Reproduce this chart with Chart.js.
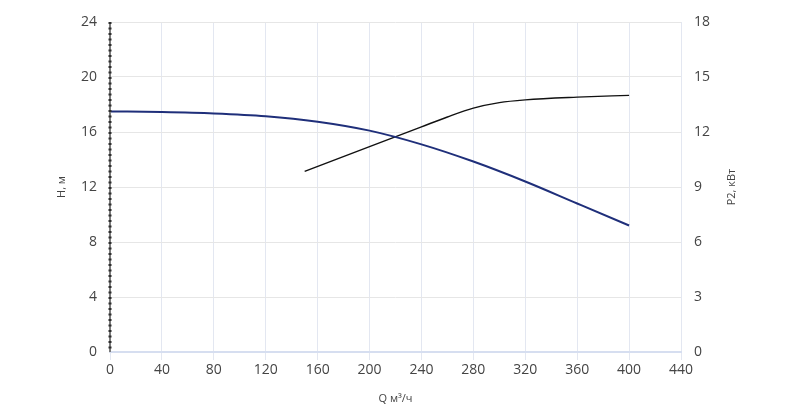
<!DOCTYPE html>
<html>
<head>
<meta charset="utf-8">
<script src="https://cdn.jsdelivr.net/npm/chart.js@4/dist/chart.umd.min.js"></script>
<style>
  html, body { margin: 0; padding: 0; background: #fff; }
  #wrap { width: 800px; height: 408px; }
</style>
</head>
<body>
<div id="wrap"><canvas id="pump" width="800" height="408"></canvas></div>
<script>
// --- data ------------------------------------------------------------
const qHead  = [0, 40, 80, 120, 160, 200, 240, 280, 320, 360, 400];
const head   = [17.5, 17.45, 17.35, 17.15, 16.75, 16.1, 15.1, 13.85, 12.4, 10.8, 9.2];

const qPower = [150, 200, 240, 260, 280, 300, 320, 360, 400];
const power  = [9.85, 11.2, 12.28, 12.82, 13.3, 13.6, 13.75, 13.9, 14.0];

const xTitle  = "Q м³/ч";
const yTitle  = "H, м";
const y1Title = "P2, кВт";

const C = {
  head:  "#1f2f7a",
  power: "#111111",
  tick:  "#444444",
  gridH: "#e6e6e6",
  gridV: "#e3e7f1",
  base:  "#d6def0",
  axis:  "#7a7a7a",
  dots:  "#2e2e2e",
};

const FONT = "'Open Sans', 'Noto Sans', sans-serif";

// dotted left axis + axis titles (the right title reads bottom-to-top like the left one)
const axisDecor = {
  id: "axisDecor",
  afterDatasetsDraw(chart) {
    const { ctx, chartArea: a } = chart;
    ctx.save();
    ctx.lineCap = "butt";
    ctx.beginPath();
    ctx.moveTo(a.left, a.top);
    ctx.lineTo(a.left, a.bottom);
    ctx.strokeStyle = C.axis;
    ctx.lineWidth = 2;
    ctx.stroke();
    ctx.setLineDash([2, 3.5]);
    ctx.strokeStyle = C.dots;
    ctx.lineWidth = 3;
    ctx.stroke();
    ctx.restore();
  },
  afterDraw(chart) {
    const { ctx, chartArea: a } = chart;
    const cy = (a.top + a.bottom) / 2;
    ctx.save();
    ctx.fillStyle = C.tick;
    ctx.font = "11px " + FONT;
    ctx.textAlign = "center";
    ctx.textBaseline = "middle";
    ctx.fillText(xTitle, (a.left + a.right) / 2, a.bottom + 47);
    [[a.left - 48, yTitle], [a.right + 51, y1Title]].forEach(([x, t]) => {
      ctx.save();
      ctx.translate(x, cy);
      ctx.rotate(-Math.PI / 2);
      ctx.fillText(t, 0, 0);
      ctx.restore();
    });
    ctx.restore();
  },
};

Chart.defaults.animation = false;
Chart.defaults.font.family = FONT;

new Chart(document.getElementById("pump"), {
  type: "line",
  data: {
    datasets: [
      { label: "H", data: qHead.map((q, i) => ({ x: q, y: head[i] })), yAxisID: "y",
        borderColor: C.head, borderWidth: 2, pointRadius: 0, cubicInterpolationMode: "monotone" },
      { label: "P2", data: qPower.map((q, i) => ({ x: q, y: power[i] })), yAxisID: "y1",
        borderColor: C.power, borderWidth: 1.4, pointRadius: 0, cubicInterpolationMode: "monotone" },
    ],
  },
  options: {
    responsive: false,
    maintainAspectRatio: false,
    animation: false,
    layout: { padding: { top: 22, left: 0, right: 0, bottom: 0 } },
    plugins: { legend: { display: false }, tooltip: { enabled: false } },
    scales: {
      x: {
        type: "linear", min: 0, max: 440,
        ticks: { stepSize: 40, color: C.tick, font: { size: 14 }, padding: 2 },
        grid: { color: C.gridV, lineWidth: 1, tickLength: 8 },
        border: { color: C.base, width: 2 },
        afterFit(s) { s.height = 56; },
      },
      y: {
        position: "left", min: 0, max: 24,
        ticks: { stepSize: 4, color: C.tick, font: { size: 14 }, padding: 13 },
        grid: { color: C.gridH, lineWidth: 1, drawTicks: false },
        border: { display: false },
        afterFit(s) { s.width = 110; },
      },
      y1: {
        position: "right", min: 0, max: 18,
        ticks: { stepSize: 3, color: C.tick, font: { size: 14 }, padding: 13 },
        grid: { display: false, drawTicks: false },
        border: { display: false },
        afterFit(s) { s.width = 119; },
      },
    },
  },
  plugins: [axisDecor],
});
</script>
</body>
</html>
